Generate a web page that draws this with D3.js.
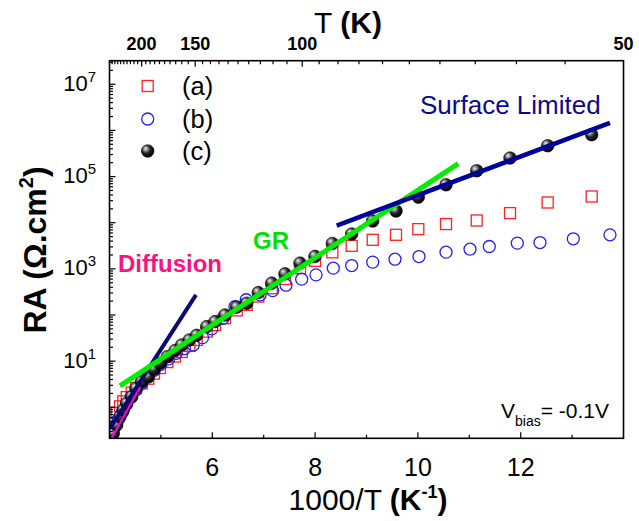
<!DOCTYPE html>
<html><head><meta charset="utf-8">
<script src="https://cdn.jsdelivr.net/npm/d3@7"></script>
<style>body{margin:0;background:#fff}svg{display:block}text{font-family:Arial,"Liberation Sans",sans-serif}</style>
</head><body>
<script>
// ---- data (x = 1000/T in K^-1, y = RA in ohm.cm^2) ----
const invT_a = [4.074,4.140,4.204,4.268,4.335,4.432,4.516,4.626,4.755,4.866,4.982,5.125,5.274,5.405,5.553,5.696,5.891,6.053,6.247,6.475,6.669,6.895,7.156,7.414,7.706,7.998,8.335,8.712,9.121,9.574,10.008,10.547,11.144,11.792,12.525,13.381];
const RA_a = [0.447,0.759,1.05,1.35,1.66,2.09,2.63,3.31,4.17,5.37,7.08,9.55,12.6,15.8,21.4,28.8,43.6,60.3,85.1,126,166,251,380,603,1035,1493,2280,3155,4256,5470,7260,9330,11170,16140,27420,36980];
const invT_b = [4.04,4.10,4.17,4.25,4.33,4.42,4.52,4.63,4.75,4.87,5.00,5.15,5.30,5.46,5.63,5.81,5.99,6.21,6.44,6.66,6.93,7.175,7.434,7.739,8.018,8.354,8.712,9.121,9.554,10.021,10.547,11.014,11.389,11.934,12.375,13.023,13.737];
const RA_b = [0.263,0.380,0.550,0.794,1.15,1.66,2.40,3.31,4.57,6.31,8.51,11.2,14.8,18.6,22.4,32.4,50.1,85.1,151,214,273,338,443,598,741,1035,1180,1400,1620,1850,2300,2670,3050,3610,3720,4480,5460];
const invT_c = [4.074,4.140,4.204,4.268,4.335,4.432,4.516,4.626,4.755,4.866,4.982,5.125,5.274,5.405,5.553,5.696,5.891,6.053,6.247,6.475,6.669,6.895,7.156,7.414,7.706,7.998,8.335,8.712,9.121,9.574,10.008,10.547,11.144,11.792,12.525,13.381];
const RA_c = [0.273,0.413,0.625,0.873,1.22,1.70,2.58,3.59,4.61,6.67,9.0,12.5,16.9,22.4,28.8,36.3,56.0,71.9,100,148,180,306,490,780,1330,1860,3550,5700,10900,17900,35900,66400,133600,251800,465600,807000];
// fitted regimes (endpoints)
const fitMagenta = [[4.0,0.178],[4.6,2.8]];
const fitDiffusion = [[4.01,0.35],[5.683,273]];
const fitGR = [[4.204,2.91],[10.786,1.9e5]];
const fitSurface = [[8.42,8690],[13.737,1.45e6]];
// axes
const xDomain = [4,14];
const yDomain = [0.213, 3.24e7];
const xMajor = [6,8,10,12], xMinor = [5,7,9,11,13];
const yLabelExp = [1,3,5,7];
const topDomain = [4,20]; // 1000/T range of the upper T axis
const topMajor = [200,150,100];
const topLabels = [200,150,100,50];
const topMinorT = d3.range(250,50,-5);
const legendNames = ["(a)","(b)","(c)"];

const W=639,H=521;
const L=109.5,R=623.5,T=60.7,B=438.3;
const svg=d3.select("body").append("svg").attr("width",W).attr("height",H);
const defs=svg.append("defs");
const g0=defs.append("radialGradient").attr("id","sph").attr("cx","0.4").attr("cy","0.38").attr("r","0.62").attr("fx","0.33").attr("fy","0.3");
[["0%","#f4f4f4"],["22%","#a0a0a0"],["55%","#262626"],["100%","#000"]].forEach(s=>g0.append("stop").attr("offset",s[0]).attr("stop-color",s[1]));
defs.append("clipPath").attr("id","clip").append("rect").attr("x",L).attr("y",T).attr("width",R-L).attr("height",B-T);

const x=d3.scaleLinear().domain(xDomain).range([L,R]);
const y=d3.scaleLog().domain(yDomain).range([B,T]);
const xt=d3.scaleLinear().domain(topDomain).range([L,R]);

const plot=svg.append("g").attr("clip-path","url(#clip)");
// series a: red open squares
const sq=11;
plot.selectAll(".a").data(invT_a.map((v,i)=>[v,RA_a[i]])).join("rect")
 .attr("x",d=>x(d[0])-sq/2).attr("y",d=>y(d[1])-sq/2).attr("width",sq).attr("height",sq)
 .attr("fill","none").attr("stroke","#ff2020").attr("stroke-width",1.3);
// series b: blue open circles
plot.selectAll(".b").data(invT_b.map((v,i)=>[v,RA_b[i]])).join("circle")
 .attr("cx",d=>x(d[0])).attr("cy",d=>y(d[1])).attr("r",6)
 .attr("fill","none").attr("stroke","#2020ff").attr("stroke-width",1.3);
// series c: black spheres
plot.selectAll(".c").data(invT_c.map((v,i)=>[v,RA_c[i]])).join("circle")
 .attr("cx",d=>x(d[0])).attr("cy",d=>y(d[1])).attr("r",6.3)
 .attr("fill","url(#sph)").attr("stroke","#000").attr("stroke-width",0.6);

const line=d3.line().x(d=>x(d[0])).y(d=>y(d[1]));
plot.append("path").attr("d",line(fitMagenta)).attr("stroke","#ff00ff").attr("stroke-width",2).attr("fill","none");
plot.append("path").attr("d",line(fitDiffusion)).attr("stroke","#0b0b70").attr("stroke-width",4).attr("fill","none");
plot.append("path").attr("d",line(fitGR)).attr("stroke","#00ee00").attr("stroke-width",5).attr("fill","none");
plot.append("path").attr("d",line(fitSurface)).attr("stroke","#00009a").attr("stroke-width",4.5).attr("fill","none");

// frame
svg.append("rect").attr("x",L).attr("y",T).attr("width",R-L).attr("height",B-T).attr("fill","none").attr("stroke","#000").attr("stroke-width",1.6);

const ax=svg.append("g").attr("stroke","#000").attr("stroke-width",1.2);
// bottom ticks (inward)
xMajor.forEach(v=>ax.append("line").attr("x1",x(v)).attr("x2",x(v)).attr("y1",B).attr("y2",B-6));
xMinor.forEach(v=>ax.append("line").attr("x1",x(v)).attr("x2",x(v)).attr("y1",B).attr("y2",B-3.5));
svg.selectAll(".xl").data(xMajor).join("text").attr("x",d=>x(d)).attr("y",476).attr("text-anchor","middle")
 .attr("font-size",25).text(d=>d);
// left ticks
for(let e=-1;e<=7;e++){for(let k=1;k<=9;k++){const v=k*Math.pow(10,e);if(v<yDomain[0]||v>yDomain[1])continue;
 ax.append("line").attr("x1",L).attr("x2",L+(k===1?6:3.5)).attr("y1",y(v)).attr("y2",y(v));}}
yLabelExp.forEach(e=>{const t=svg.append("text").attr("x",96).attr("y",y(Math.pow(10,e))+6.5).attr("text-anchor","end").attr("font-size",22);
 t.append("tspan").text("10");t.append("tspan").attr("font-size",15).attr("dy",-9).text(e);});
// top ticks (T axis)
topMinorT.forEach(Tk=>{const px=xt(1000/Tk);if(px<L||px>R)return;
 ax.append("line").attr("x1",px).attr("x2",px).attr("y1",T).attr("y2",T+(topMajor.includes(Tk)?6:3.5));});
svg.selectAll(".tl").data(topLabels).join("text").attr("x",d=>xt(1000/d)).attr("y",50).attr("text-anchor","middle")
 .attr("font-size",18).attr("font-weight","bold").text(d=>d);

// axis titles
const xtitle=svg.append("text").attr("x",368).attr("y",510).attr("text-anchor","middle").attr("font-size",30);
xtitle.append("tspan").text("1000/T ");
xtitle.append("tspan").attr("font-weight","bold").text("(K");
xtitle.append("tspan").attr("font-weight","bold").attr("font-size",18).attr("dy",-12).text("-1");
xtitle.append("tspan").attr("font-weight","bold").attr("dy",12).text(")");
const ytitle=svg.append("text").attr("transform","translate(46,250) rotate(-90)").attr("text-anchor","middle").attr("font-size",32).attr("font-weight","bold");
ytitle.append("tspan").text("RA (Ω.cm");
ytitle.append("tspan").attr("font-size",20).attr("dy",-13).text("2");
ytitle.append("tspan").attr("dy",13).text(")");
const ttitle=svg.append("text").attr("x",348).attr("y",33).attr("text-anchor","middle").attr("font-size",30);
ttitle.append("tspan").text("T ");
ttitle.append("tspan").attr("font-weight","bold").text("(K)");

// annotations
svg.append("text").attr("x",118).attr("y",272).attr("font-size",24).attr("font-weight","bold").attr("fill","#ff1080").text("Diffusion");
svg.append("text").attr("x",253).attr("y",249).attr("font-size",24).attr("font-weight","bold").attr("fill","#00e000").text("GR");
svg.append("text").attr("x",420).attr("y",114).attr("font-size",26).attr("fill","#0a0a90").text("Surface Limited");
const vb=svg.append("text").attr("x",501).attr("y",418).attr("font-size",21);
vb.append("tspan").text("V");
vb.append("tspan").attr("font-size",14).attr("dy",8).text("bias");
vb.append("tspan").attr("dy",-8).text("= -0.1V");

// legend
const lg=svg.append("g");
const ly=[86,119,151];
lg.append("rect").attr("x",147.7-5.5).attr("y",ly[0]-5.5).attr("width",11).attr("height",11).attr("fill","none").attr("stroke","#ff2020").attr("stroke-width",1.3);
lg.append("circle").attr("cx",147.7).attr("cy",ly[1]).attr("r",6).attr("fill","none").attr("stroke","#2020ff").attr("stroke-width",1.3);
lg.append("circle").attr("cx",147.7).attr("cy",ly[2]).attr("r",6.3).attr("fill","url(#sph)").attr("stroke","#000").attr("stroke-width",0.6);
legendNames.forEach((n,i)=>lg.append("text").attr("x",182).attr("y",ly[i]+9).attr("font-size",25.5).text(n));
</script>
</body></html>
